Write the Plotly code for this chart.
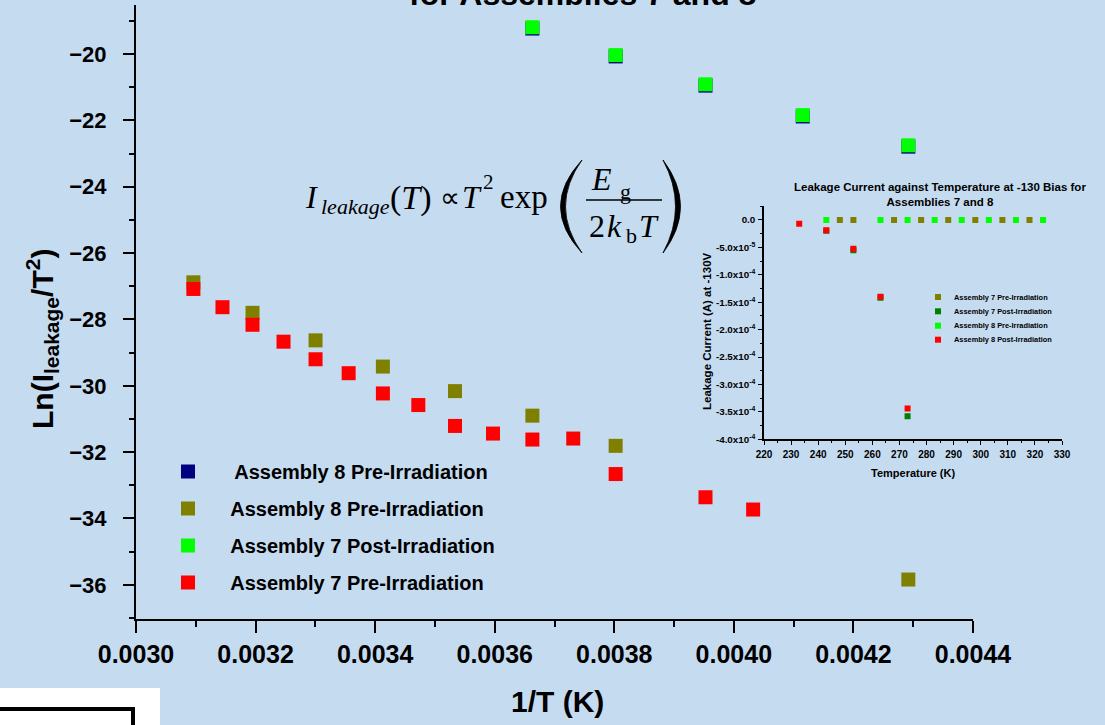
import plotly.graph_objects as go

W, H = 1105, 725
BG = "#C5DBF0"
SANS = "Arial, 'Liberation Sans', sans-serif"
SERIF = "'Times New Roman', 'Liberation Serif', serif"


def px(x):
    return x / W


def py(y):
    return 1 - y / H


# ---------------- main chart data (Ln(I/T^2) vs 1/T) ----------------
T_post = [273, 263, 253, 243, 233]
ln_a8_pre_blue = [-19.23, -20.07, -20.95, -21.88, -22.79]
ln_a7_post = [-19.19, -20.03, -20.91, -21.84, -22.75]

T_a8_pre = [323, 313, 303, 293, 283, 273, 263, 233]
ln_a8_pre = [-26.88, -27.80, -28.63, -29.42, -30.16, -30.90, -31.81, -35.84]

T_a7_pre = [323, 318, 313, 308, 303, 298, 293, 288, 283, 278, 273, 268, 263, 253, 248]
ln_a7_pre = [-27.08, -27.63, -28.16, -28.67, -29.20, -29.62, -30.23, -30.58,
             -31.21, -31.44, -31.62, -31.59, -32.66, -33.36, -33.73]

x_tick_vals = [0.0030, 0.0032, 0.0034, 0.0036, 0.0038, 0.0040, 0.0042, 0.0044]
x_tick_text = ["0.0030", "0.0032", "0.0034", "0.0036", "0.0038", "0.0040", "0.0042", "0.0044"]
y_tick_vals = [-36, -34, -32, -30, -28, -26, -24, -22, -20]
y_tick_text = ["\u221236", "\u221234", "\u221232", "\u221230", "\u221228",
               "\u221226", "\u221224", "\u221222", "\u221220"]

main_names = ["Assembly 8 Pre-Irradiation", "Assembly 8 Pre-Irradiation",
              "Assembly 7 Post-Irradiation", "Assembly 7 Pre-Irradiation"]

# ---------------- inset data (leakage current vs temperature) ----------------
T_in_a7_pre = [248, 253, 268, 278, 288, 298, 308, 318]
I_in_a7_pre = [0.0, 0.0, 0.0, 0.0, 0.0, 0.0, 0.0, 0.0]
T_in_a7_post = [243, 253, 263, 273]
I_in_a7_post = [-1.95e-5, -5.5e-5, -1.42e-4, -3.58e-4]
T_in_a8_pre = [243, 263, 273, 283, 293, 303, 313, 323]
I_in_a8_pre = [0.0, 0.0, 0.0, 0.0, 0.0, 0.0, 0.0, 0.0]
T_in_a8_post = [233, 243, 253, 263, 273]
I_in_a8_post = [-0.7e-5, -1.88e-5, -5.23e-5, -1.40e-4, -3.44e-4]

inset_names = ["Assembly 7 Pre-Irradiation", "Assembly 7 Post-Irradiation",
               "Assembly 8 Pre-Irradiation", "Assembly 8 Post-Irradiation"]
inset_colors = ["#808000", "#008000", "#00FF00", "#FF0000"]

in_x_ticks = [220, 230, 240, 250, 260, 270, 280, 290, 300, 310, 320, 330]
in_y_vals = [-4.0e-4, -3.5e-4, -3.0e-4, -2.5e-4, -2.0e-4, -1.5e-4, -1.0e-4, -5.0e-5, 0.0]
in_y_text = ["-4.0x10<sup>-4</sup>", "-3.5x10<sup>-4</sup>", "-3.0x10<sup>-4</sup>",
             "-2.5x10<sup>-4</sup>", "-2.0x10<sup>-4</sup>", "-1.5x10<sup>-4</sup>",
             "-1.0x10<sup>-4</sup>", "-5.0x10<sup>-5</sup>", "0.0"]


def inv(ts):
    return [1.0 / t for t in ts]


fig = go.Figure()

NBSP = "\u00a0"
main_series = [
    (inv(T_post), ln_a8_pre_blue, "#000080", NBSP * 4 + "\u2009" + main_names[0]),
    (inv(T_a8_pre), ln_a8_pre, "#808000", NBSP * 4 + main_names[1]),
    (inv(T_post), ln_a7_post, "#00FF00", NBSP * 4 + main_names[2]),
    (inv(T_a7_pre), ln_a7_pre, "#FF0000", NBSP * 4 + main_names[3]),
]
for i, (xs, ys, col, name) in enumerate(main_series):
    fig.add_trace(go.Scatter(
        x=xs, y=ys, mode="markers", name=name, legendgroup="g%d" % i,
        marker=dict(symbol="square", size=14, color=col, line=dict(width=0)),
        xaxis="x", yaxis="y",
    ))

inset_series = [
    (T_in_a7_pre, I_in_a7_pre),
    (T_in_a7_post, I_in_a7_post),
    (T_in_a8_pre, I_in_a8_pre),
    (T_in_a8_post, I_in_a8_post),
]
for (xs, ys), col, name in zip(inset_series, inset_colors, inset_names):
    fig.add_trace(go.Scatter(
        x=xs, y=ys, mode="markers", name=name, showlegend=False,
        marker=dict(symbol="square", size=6, color=col, line=dict(width=0)),
        xaxis="x2", yaxis="y2",
    ))

axis_common = dict(showline=True, linecolor="black", showgrid=False, zeroline=False,
                   ticks="outside", tickcolor="black", mirror=False, automargin=False)

fig.update_layout(
    width=W, height=H,
    margin=dict(l=0, r=0, t=0, b=0, autoexpand=False),
    paper_bgcolor=BG, plot_bgcolor=BG,
    font=dict(family=SANS, color="black"),
    showlegend=True,
    legend=dict(
        x=px(168), y=py(452), xanchor="left", yanchor="top",
        bgcolor="rgba(0,0,0,0)", borderwidth=0,
        font=dict(family=SANS, size=20, color="black", weight="bold"),
        tracegroupgap=8, itemsizing="trace",
    ),
    xaxis=dict(
        domain=[px(136), px(973)], range=[0.0030, 0.00440001], anchor="y",
        tickvals=x_tick_vals, ticktext=x_tick_text,
        linewidth=2, ticklen=12, tickwidth=2,
        tickfont=dict(family=SANS, size=25, weight="bold"),
        ticklabelstandoff=0,
        minor=dict(dtick=0.0001, ticks="outside", ticklen=6, tickwidth=2,
                   tickcolor="black", showgrid=False),
        **axis_common,
    ),
    yaxis=dict(
        domain=[py(619), py(5)], range=[-37.03, -18.52], anchor="x",
        tickvals=y_tick_vals, ticktext=y_tick_text,
        linewidth=2, ticklen=11, tickwidth=2,
        tickfont=dict(family=SANS, size=22, weight="bold"),
        ticklabelstandoff=12,
        minor=dict(dtick=1, ticks="outside", ticklen=5, tickwidth=2,
                   tickcolor="black", showgrid=False),
        **axis_common,
    ),
    xaxis2=dict(
        domain=[px(764), px(1062)], range=[220, 330], anchor="y2",
        tickvals=in_x_ticks, ticktext=[str(v) for v in in_x_ticks],
        linewidth=1.5, ticklen=4, tickwidth=1.2,
        tickfont=dict(family=SANS, size=10, weight="bold"),
        ticklabelstandoff=1,
        minor=dict(dtick=5, ticks="outside", ticklen=2, tickwidth=1,
                   tickcolor="black", showgrid=False),
        **axis_common,
    ),
    yaxis2=dict(
        domain=[py(439.3), py(206)], range=[-4.0e-4, 0.255e-4], anchor="x2",
        tickvals=in_y_vals, ticktext=in_y_text,
        linewidth=1.5, ticklen=4, tickwidth=1.2,
        tickfont=dict(family=SANS, size=9.8, weight="bold"),
        ticklabelstandoff=1,
        minor=dict(dtick=2.5e-5, ticks="outside", ticklen=2, tickwidth=1,
                   tickcolor="black", showgrid=False),
        **axis_common,
    ),
)

annotations = []


def add_text(text, x, y, size, family=SANS, bold=False, xanchor="left",
             yanchor="middle", angle=0):
    annotations.append(dict(
        text=text, x=px(x), y=py(y), xref="paper", yref="paper",
        xanchor=xanchor, yanchor=yanchor, showarrow=False, textangle=angle,
        font=dict(family=family, size=size, color="black",
                  weight="bold" if bold else "normal"),
        borderpad=0,
    ))


def serif_at(text, left, baseline, size):
    add_text(text, left, baseline - 0.34 * size, size, family=SERIF)


# main titles
add_text("for Assemblies 7 and 8", 582, 5 - 0.35 * 32, 32, bold=True, xanchor="center")
add_text("1/T (K)", 557, 701, 30, bold=True, xanchor="center")
add_text("Ln(I<sub>leakage</sub>/T<sup>2</sup>)", 42, 339, 30, bold=True,
         xanchor="center", angle=-90)

# equation
serif_at("<i>I</i>", 304, 208, 32)
serif_at("<i>leakage</i>", 320, 214, 22)
serif_at("(<i>T</i>)", 389, 210, 34)
serif_at("\u221d", 439, 207, 28)
serif_at("<i>T</i>", 461, 208, 32)
serif_at("2", 482, 189, 21)
serif_at("exp", 499, 208, 33)
serif_at("<i>E</i>", 590, 190, 32)
serif_at("g", 619, 199, 22)
serif_at("2", 588, 237, 32)
serif_at("<i>k</i>", 606, 237, 32)
serif_at("b", 625, 243, 22)
serif_at("<i>T</i>", 638, 237, 32)

# inset texts
add_text("Leakage Current against Temperature at -130 Bias for<br>Assemblies 7 and 8",
         940, 194.5, 11.5, bold=True, xanchor="center")
add_text("Temperature (K)", 913, 473, 11, bold=True, xanchor="center")
add_text("Leakage Current (A) at -130V", 707, 331, 11.5, bold=True,
         xanchor="center", angle=-90)

legend_rows = [297, 311.3, 325.7, 339.7]
shapes = []
for name, col, yy in zip(inset_names, inset_colors, legend_rows):
    shapes.append(dict(type="rect", xref="paper", yref="paper",
                       x0=px(935), x1=px(941), y0=py(yy + 3), y1=py(yy - 3),
                       fillcolor=col, line=dict(width=0)))
    add_text(name, 953, yy, 7.4, bold=True)

fig.update_layout(annotations=annotations)

# fraction line
shapes.append(dict(type="line", xref="paper", yref="paper",
                   x0=px(586), x1=px(662), y0=py(200), y1=py(200),
                   line=dict(color="black", width=1.6)))


def paren_path(tip_x, top, bot, outer_cx, inner_cx):
    mid = (top + bot) / 2
    return ("M {a},{b} Q {c},{d} {a},{e} Q {f},{d} {a},{b} Z".format(
        a=px(tip_x), b=py(top), c=px(outer_cx), d=py(mid), e=py(bot), f=px(inner_cx)))


shapes.append(dict(type="path", xref="paper", yref="paper",
                   path=paren_path(582, 160, 253, 539, 549),
                   fillcolor="black", line=dict(color="black", width=0.8)))
shapes.append(dict(type="path", xref="paper", yref="paper",
                   path=paren_path(663, 160, 253, 698, 688),
                   fillcolor="black", line=dict(color="black", width=0.8)))

# white box artefact bottom-left
shapes.append(dict(type="rect", xref="paper", yref="paper", layer="above",
                   x0=px(0), x1=px(160), y0=py(725), y1=py(688),
                   fillcolor="white", line=dict(width=0)))
shapes.append(dict(type="path", xref="paper", yref="paper", layer="above",
                   path="M {a},{b} L {c},{b} L {c},{d}".format(
                       a=px(0), b=py(709), c=px(133), d=py(726)),
                   line=dict(color="black", width=4)))

fig.update_layout(shapes=shapes)

fig.write_html("out.html")
